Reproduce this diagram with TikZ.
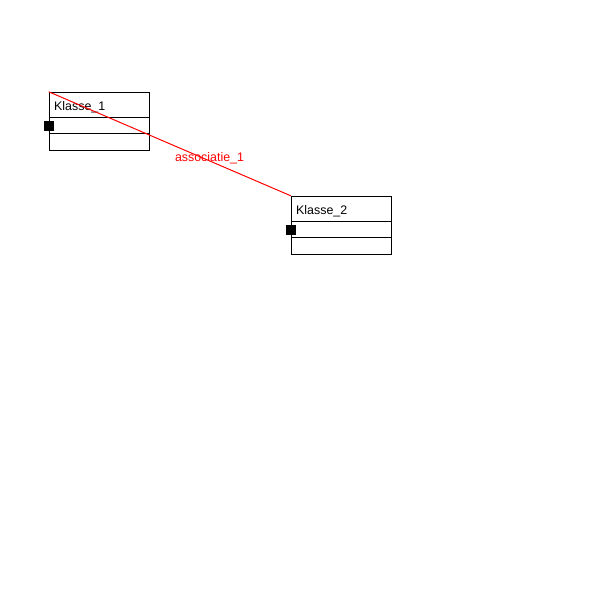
\documentclass[tikz,border=0pt]{standalone}
\usepackage{fontspec}
\setmainfont{Liberation Sans}
\begin{document}
\begin{tikzpicture}[x=1pt,y=-1pt,
  classbox/.style={draw=black,line width=1pt,fill=white,minimum width=100pt,minimum height=58pt,inner sep=0pt,anchor=north west},
  handle/.style={fill=black,minimum size=10pt,inner sep=0pt},
  ctext/.style={font=\fontsize{12.4pt}{14pt}\selectfont,inner sep=0pt,anchor=base west},
  assoc/.style={draw=red,line width=1pt},
  alabel/.style={text=red,font=\fontsize{12.4pt}{14pt}\selectfont,inner sep=0pt}]
\useasboundingbox (0,0) rectangle (600,600);
\fill[white] (0,0) rectangle (600,600);
% Klasse_1
\node[classbox] (k1) at (48.8,91.8) {};
\draw[line width=1pt] (48.8,117.8) -- (148.8,117.8);
\draw[line width=1pt] (48.8,133.8) -- (148.8,133.8);
\node[ctext] (t1) at (54,110) {Klasse\_1};
% Klasse_2
\node[classbox] (k2) at (290.8,195.8) {};
\draw[line width=1pt] (290.8,221.8) -- (390.8,221.8);
\draw[line width=1pt] (290.8,237.8) -- (390.8,237.8);
\node[ctext] (t2) at (296,214) {Klasse\_2};
% association
\draw[assoc] (k1.north west) -- (k2.north west);
\node[alabel] (a1) at (209.5,158.5) {associatie\_1};
% handles
\node[handle] (h1) at (48.5,125.5) {};
\node[handle] (h2) at (290.5,229.5) {};
\end{tikzpicture}
\end{document}
